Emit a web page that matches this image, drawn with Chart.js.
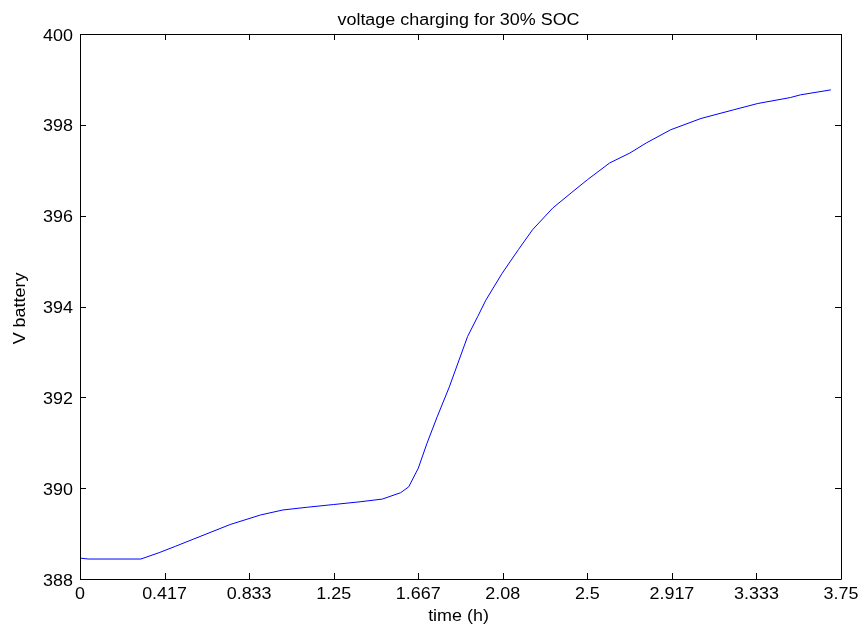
<!DOCTYPE html>
<html>
<head>
<meta charset="utf-8">
<title>voltage charging for 30% SOC</title>
<script src="https://cdn.jsdelivr.net/npm/chart.js@4/dist/chart.umd.min.js"></script>
<style>
  html, body { margin: 0; padding: 0; background: #ffffff; }
  #chart { display: block; }
</style>
</head>
<body>
<canvas id="chart" width="865" height="630"></canvas>
<script>
// Battery voltage during charging, starting from 30% state of charge
const timeHours = [
  0, 0.04, 0.30, 0.39, 0.47, 0.56, 0.65, 0.74, 0.89, 1.00,
  1.12, 1.25, 1.38, 1.49, 1.58, 1.62, 1.667, 1.71, 1.76, 1.82,
  1.91, 1.96, 2.00, 2.08, 2.16, 2.23, 2.33, 2.42, 2.50, 2.61,
  2.71, 2.79, 2.91, 3.06, 3.22, 3.34, 3.50, 3.55, 3.70
];
const voltageBattery = [
  388.46, 388.44, 388.44, 388.58, 388.72, 388.88, 389.04, 389.20, 389.41, 389.52,
  389.58, 389.64, 389.70, 389.76, 389.90, 390.03, 390.44, 390.99, 391.57, 392.23,
  393.34, 393.78, 394.14, 394.73, 395.25, 395.69, 396.17, 396.50, 396.79, 397.16,
  397.38, 397.60, 397.89, 398.14, 398.33, 398.47, 398.60, 398.66, 398.77
];
const xTickValues = [0, 0.41667, 0.83333, 1.25, 1.66667, 2.08333, 2.5, 2.91667, 3.33333, 3.75];
const xTickLabels = ['0', '0.417', '0.833', '1.25', '1.667', '2.08', '2.5', '2.917', '3.333', '3.75'];
const yTickValues = [388, 390, 392, 394, 396, 398, 400];
const yTickLabels = ['388', '390', '392', '394', '396', '398', '400'];

const FONT = '16px "Liberation Sans", Arial, sans-serif';
const STRETCH = 1.12;   // the axis font is set slightly wide
const TICK_LEN = 6;

function drawText(ctx, text, x, y, align, angle) {
  ctx.save();
  ctx.translate(x, y);
  if (angle) ctx.rotate(angle);
  ctx.scale(STRETCH, 1);
  ctx.font = FONT;
  ctx.fillStyle = '#000000';
  ctx.textAlign = align;
  ctx.textBaseline = 'alphabetic';
  ctx.fillText(text, 0, 0);
  ctx.restore();
}

// Box frame, inward ticks on all four sides, tick labels and titles
const axesDecor = {
  id: 'axesDecor',
  afterDatasetsDraw(chart) {
    const ctx = chart.ctx;
    const a = chart.chartArea;
    const xs = chart.scales.x;
    const ys = chart.scales.y;
    ctx.save();
    ctx.strokeStyle = '#000000';
    ctx.lineWidth = 1;
    ctx.beginPath();
    ctx.rect(Math.round(a.left) + 0.5, Math.round(a.top) + 0.5,
             Math.round(a.right - a.left), Math.round(a.bottom - a.top));
    ctx.stroke();

    ctx.beginPath();
    xTickValues.forEach(v => {
      const px = Math.round(xs.getPixelForValue(v)) + 0.5;
      ctx.moveTo(px, a.bottom); ctx.lineTo(px, a.bottom - TICK_LEN);
      ctx.moveTo(px, a.top); ctx.lineTo(px, a.top + TICK_LEN);
    });
    yTickValues.forEach(v => {
      const py = Math.round(ys.getPixelForValue(v)) + 0.5;
      ctx.moveTo(a.left, py); ctx.lineTo(a.left + TICK_LEN, py);
      ctx.moveTo(a.right, py); ctx.lineTo(a.right - TICK_LEN, py);
    });
    ctx.stroke();

    xTickValues.forEach((v, i) => {
      drawText(ctx, xTickLabels[i], xs.getPixelForValue(v), a.bottom + 19.5, 'center');
    });
    yTickValues.forEach((v, i) => {
      drawText(ctx, yTickLabels[i], a.left - 7, ys.getPixelForValue(v) + 6.5, 'right');
    });

    const cx = (a.left + a.right) / 2;
    drawText(ctx, 'voltage charging for 30% SOC', cx - 2, 25, 'center');
    drawText(ctx, 'time (h)', cx - 2, 620.5, 'center');
    drawText(ctx, 'V battery', 25, (a.top + a.bottom) / 2 + 2, 'center', -Math.PI / 2);
    ctx.restore();
  }
};

new Chart(document.getElementById('chart'), {
  type: 'line',
  data: {
    datasets: [{
      data: timeHours.map((t, i) => ({ x: t, y: voltageBattery[i] })),
      borderColor: '#0000ff',
      borderWidth: 1,
      pointRadius: 0,
      tension: 0,
      fill: false
    }]
  },
  options: {
    responsive: false,
    animation: false,
    devicePixelRatio: 1,
    layout: { padding: { left: 0, right: 24, top: 34, bottom: 0 } },
    plugins: { legend: { display: false }, tooltip: { enabled: false }, title: { display: false } },
    scales: {
      x: {
        type: 'linear',
        min: 0,
        max: 3.75,
        grid: { display: false, drawTicks: false },
        border: { display: false },
        ticks: { display: false },
        afterFit(scale) { scale.height = 51; }
      },
      y: {
        type: 'linear',
        min: 388,
        max: 400,
        grid: { display: false, drawTicks: false },
        border: { display: false },
        ticks: { display: false, stepSize: 2 },
        afterFit(scale) { scale.width = 80; }
      }
    }
  },
  plugins: [axesDecor]
});
</script>
</body>
</html>
